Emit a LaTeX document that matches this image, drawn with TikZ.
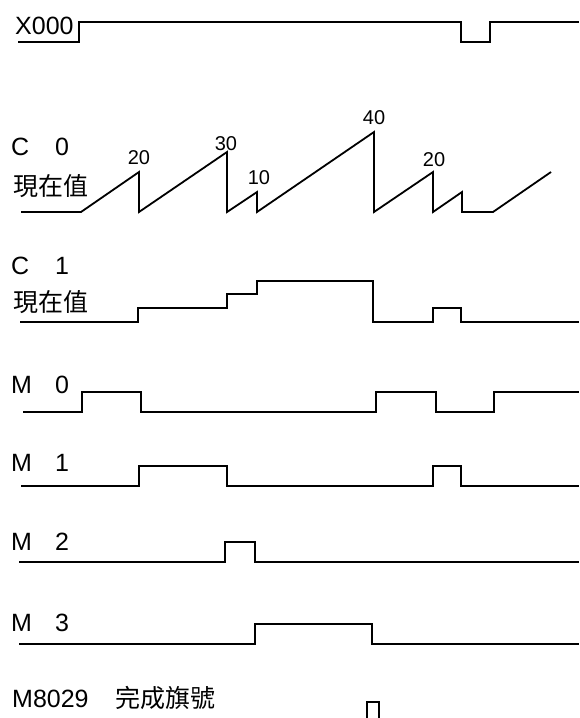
\documentclass[tikz,border=0pt]{standalone}
\usepackage{fontspec}
\setmainfont{Liberation Sans}
\newfontfamily\cjk{Noto Sans CJK TC}
\newcommand\signame[2]{\makebox[44pt][l]{#1}#2}

\begin{document}
\begin{tikzpicture}[x=1pt, y=-1pt,
  wave/.style={line width=1.8pt, line join=miter},
  lbl/.style={anchor=west, inner sep=0pt, font=\fontsize{25}{30}\selectfont},
  cnt/.style={inner sep=0pt, font=\fontsize{20}{24}\selectfont}]
\useasboundingbox (0,0) rectangle (579,718);
% input X000
\node[lbl] (x0) at (15,26) {X000};
\draw[wave] (18,42) -- (79,42) -- (79,22) -- (461,22) -- (461,42) -- (490,42) -- (490,22) -- (579,22);
% counter C0, present value
\node[lbl] (c0) at (11,147) {\signame{C}{0}};
\node[lbl] (c0v) at (13,186) {\cjk 現在值};
\draw[wave] (21,212) -- (81,212) -- (139,172) -- (139,212) -- (227,152) -- (227,212) -- (257,192) -- (257,212)
  -- (374,132) -- (374,212) -- (433,172) -- (433,212) -- (462,192) -- (462,212) -- (493,212) -- (551,172);
\foreach \x/\y/\v [count=\i] in {139/158/20, 226/144/30, 259/178/10, 374/118/40, 434/160/20}
  \node[cnt] (cnt\i) at (\x,\y) {\v};
% counter C1, present value
\node[lbl] (c1) at (11,266) {\signame{C}{1}};
\node[lbl] (c1v) at (13,302) {\cjk 現在值};
\draw[wave] (20,322) -- (138,322) -- (138,308) -- (227,308) -- (227,294) -- (257,294) -- (257,281) -- (373,281)
  -- (373,322) -- (433,322) -- (433,308) -- (461,308) -- (461,322) -- (579,322);
% outputs M0..M3
\node[lbl] (m0) at (11,385) {\signame{M}{0}};
\draw[wave] (23,412) -- (82,412) -- (82,392) -- (141,392) -- (141,412) -- (376,412) -- (376,392) -- (436,392)
  -- (436,412) -- (494,412) -- (494,392) -- (579,392);
\node[lbl] (m1) at (11,463) {\signame{M}{1}};
\draw[wave] (21,486) -- (139,486) -- (139,466) -- (227,466) -- (227,486) -- (433,486) -- (433,466) -- (461,466)
  -- (461,486) -- (579,486);
\node[lbl] (m2) at (11,542) {\signame{M}{2}};
\draw[wave] (19,562) -- (225,562) -- (225,542) -- (255,542) -- (255,562) -- (579,562);
\node[lbl] (m3) at (11,623) {\signame{M}{3}};
\draw[wave] (19,644) -- (255,644) -- (255,624) -- (372,624) -- (372,644) -- (579,644);
% completion flag
\node[lbl] (m8029) at (12,698) {M8029\hspace{27pt}{\cjk 完成旗號}};
\draw[wave] (367,720) -- (367,702) -- (379,702) -- (379,720);
\end{tikzpicture}
\end{document}
